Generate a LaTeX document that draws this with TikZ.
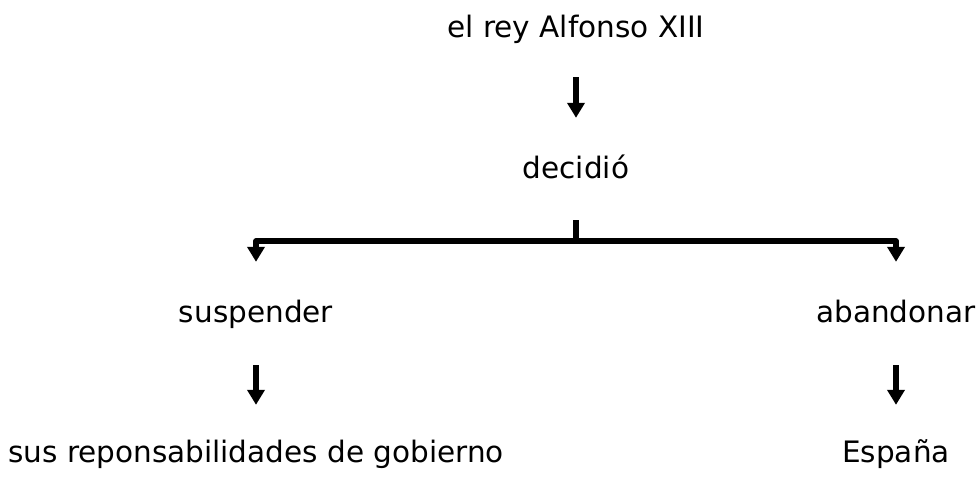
\documentclass[tikz,border=0pt]{standalone}
\usepackage{fontspec}
\setmainfont{DejaVu Sans}
\usetikzlibrary{arrows.meta}

\begin{document}
\begin{tikzpicture}[x=1pt,y=-1pt]

      \useasboundingbox (0,0) rectangle (976,477);

      \begin{scope}[every node/.style={anchor=base,inner sep=0pt,
          text height=22pt,text depth=7pt,font=\fontsize{29.5}{30}\selectfont}]
        \node (1) at (576,37)  {el rey Alfonso XIII};
        \node (2) at (576,178) {decidió};
        \node (3) at (256,322) {suspender};
        \node (4) at (896,322) {abandonar};
        \node (5) at (256,462) {sus reponsabilidades de gobierno};
        \node (6) at (896,462) {España};
      \end{scope}

      \coordinate (t) at (576,241);

      \begin{scope}[line width=5.5pt,line join=round]

        \begin{scope}[every edge/.style={draw,-{Triangle[width=17pt,length=15pt]}}]
          \path (1) edge[shorten <=33pt,shorten >=38pt] (2);
          \path (3) edge[shorten <=36pt,shorten >=35pt] (5);
          \path (4) edge[shorten <=36pt,shorten >=35pt] (6);
        \end{scope}

        \draw[shorten <=35pt] (2) -- (t);
        \draw[-{Triangle[width=17pt,length=15pt]},shorten >=38pt] (t) -| (3);
        \draw[-{Triangle[width=17pt,length=15pt]},shorten >=38pt] (t) -| (4);
      \end{scope}

    \end{tikzpicture}
\end{document}
